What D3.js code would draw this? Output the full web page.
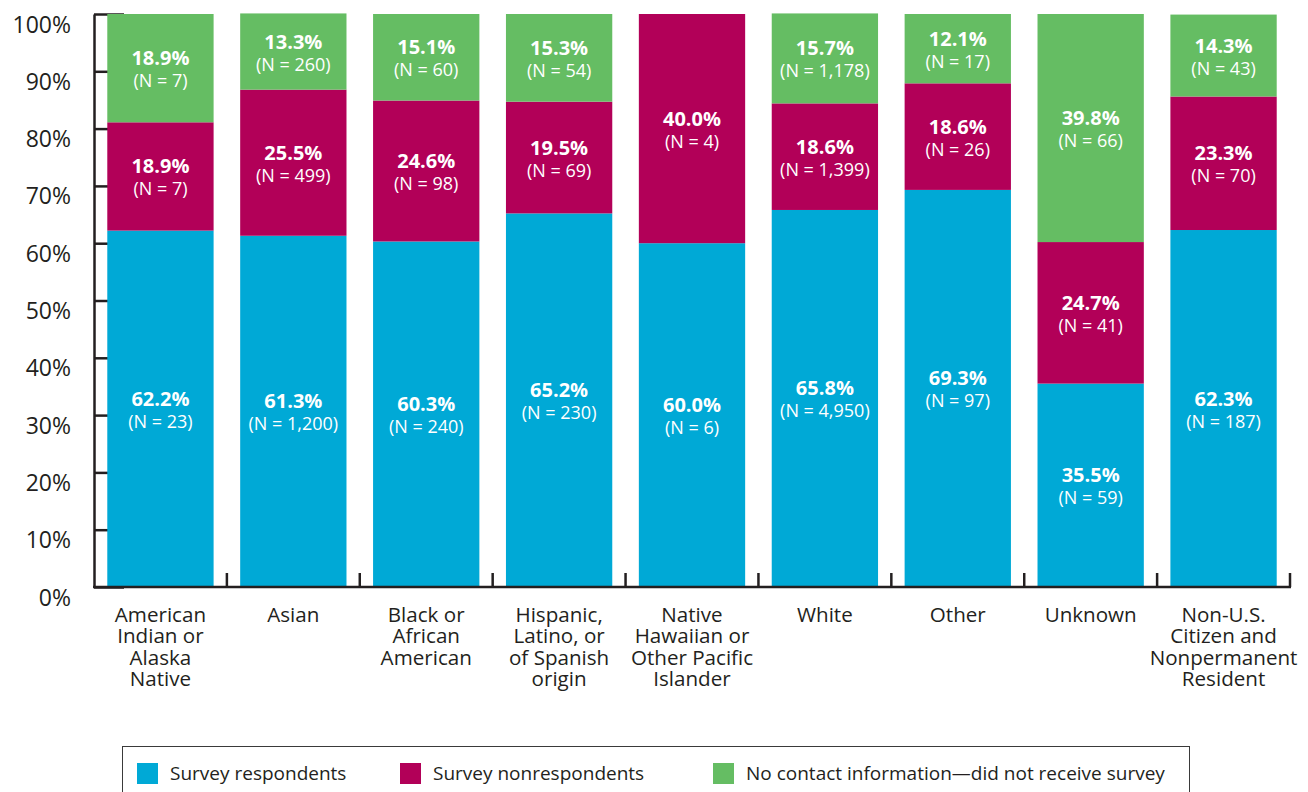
<!DOCTYPE html>
<html>
<head>
<meta charset="utf-8">
<script src="https://cdn.jsdelivr.net/npm/d3@7"></script>
<style>
  body { margin: 0; background: #fff; }
  svg { display: block; font-family: "Open Sans", sans-serif; }
  .seg-pct { font-weight: 700; font-size: 20px; fill: #fff; }
  .seg-n { font-size: 18px; fill: #fff; }
  .cat { font-size: 20.6px; fill: #231f20; }
  .legend-text { font-size: 19px; fill: #231f20; }
</style>
</head>
<body>
<div id="chart"></div>
<script>
// categories (label lines as printed under each bar)
var categories = ["AIAN", "Asian", "Black", "Hispanic", "NHPI", "White", "Other", "Unknown", "NonUS"];
var categoryLines = [
  ["American", "Indian or", "Alaska", "Native"],
  ["Asian"],
  ["Black or", "African", "American"],
  ["Hispanic,", "Latino, or", "of Spanish", "origin"],
  ["Native", "Hawaiian or", "Other Pacific", "Islander"],
  ["White"],
  ["Other"],
  ["Unknown"],
  ["Non-U.S.", "Citizen and", "Nonpermanent", "Resident"]
];

// series values (percent) and counts
var respondents      = [62.2, 61.3, 60.3, 65.2, 60.0, 65.8, 69.3, 35.5, 62.3];
var respondentsN     = ["23", "1,200", "240", "230", "6", "4,950", "97", "59", "187"];
var nonrespondents   = [18.9, 25.5, 24.6, 19.5, 40.0, 18.6, 18.6, 24.7, 23.3];
var nonrespondentsN  = ["7", "499", "98", "69", "4", "1,399", "26", "41", "70"];
var noContact        = [18.9, 13.3, 15.1, 15.3, 0, 15.7, 12.1, 39.8, 14.3];
var noContactN       = ["7", "260", "60", "54", "", "1,178", "17", "66", "43"];

var seriesNames = ["Survey respondents", "Survey nonrespondents", "No contact information\u2014did not receive survey"];
var yTicks = [0, 10, 20, 30, 40, 50, 60, 70, 80, 90, 100];

//setup spacing size
var svg_w = 1308;
var svg_h = 792;
var plot = {left: 94, right: 1290, top: 14, bottom: 587};
var colors = ["#00a9d6", "#b20058", "#65bd63"];
var ink = "#231f20";

// build rows for the stack
var keys = ["resp", "nonresp", "nocontact"];
var rows = categories.map(function(c, i) {
  return {cat: c, resp: respondents[i], nonresp: nonrespondents[i], nocontact: noContact[i],
          n: [respondentsN[i], nonrespondentsN[i], noContactN[i]]};
});
var stacked = d3.stack().keys(keys)(rows);

var svg = d3.select("#chart").append("svg")
  .attr("width", svg_w)
  .attr("height", svg_h);

//scales
var x = d3.scaleBand()
  .domain(categories)
  .range([plot.left, plot.right])
  .paddingInner(0.2)
  .paddingOuter(0.1);

var y = d3.scaleLinear()
  .domain([0, 100])
  .range([plot.bottom, plot.top]);

//y axis (ticks point inward, labels sit just under each tick)
var yAxis = svg.append("g")
  .attr("transform", "translate(" + plot.left + ",0)")
  .call(d3.axisLeft(y).tickValues(yTicks).tickSizeInner(-30).tickSizeOuter(0).tickPadding(23)
        .tickFormat(function(d) { return d + "%"; }));
yAxis.select(".domain").attr("stroke", ink).attr("stroke-width", 2.5);
yAxis.selectAll(".tick line").attr("stroke", ink).attr("stroke-width", 2.5);
yAxis.selectAll(".tick text")
  .attr("dy", 18)
  .attr("fill", ink)
  .style("font-family", "'Open Sans', sans-serif")
  .style("font-size", "23px");

//bars
var layer = svg.selectAll(".layer")
  .data(stacked)
  .enter().append("g")
  .attr("class", "layer")
  .attr("fill", function(d, i) { return colors[i]; });

layer.selectAll("rect")
  .data(function(d) { return d; })
  .enter().append("rect")
  .attr("x", function(d) { return x(d.data.cat); })
  .attr("y", function(d) { return y(d[1]); })
  .attr("width", x.bandwidth())
  .attr("height", function(d) { return y(d[0]) - y(d[1]); });

//segment labels
var labels = [];
stacked.forEach(function(s, si) {
  s.forEach(function(d) {
    if (d[1] - d[0] > 0) labels.push({cat: d.data.cat, mid: (y(d[0]) + y(d[1])) / 2,
                                      val: d[1] - d[0], n: d.data.n[si]});
  });
});
var lab = svg.append("g").selectAll("g")
  .data(labels)
  .enter().append("g")
  .attr("transform", function(d) { return "translate(" + (x(d.cat) + x.bandwidth() / 2) + "," + d.mid + ")"; })
  .attr("text-anchor", "middle");
lab.append("text").attr("class", "seg-pct").attr("y", -3)
  .text(function(d) { return d.val.toFixed(1) + "%"; });
lab.append("text").attr("class", "seg-n").attr("y", 19)
  .text(function(d) { return "(N = " + d.n + ")"; });

//x axis line and separators between categories
var xa = svg.append("g").attr("stroke", ink).attr("stroke-width", 2.5);
xa.append("line")
  .attr("x1", plot.left - 1).attr("x2", x.range()[1] + 1)
  .attr("y1", plot.bottom).attr("y2", plot.bottom);
xa.selectAll(".sep")
  .data(categories)
  .enter().append("line")
  .attr("x1", function(d) { return x(d) + x.bandwidth() + (x.step() - x.bandwidth()) / 2; })
  .attr("x2", function(d) { return x(d) + x.bandwidth() + (x.step() - x.bandwidth()) / 2; })
  .attr("y1", plot.bottom - 14).attr("y2", plot.bottom);

//category labels
var cat = svg.append("g").selectAll("text")
  .data(categories)
  .enter().append("text")
  .attr("class", "cat")
  .attr("text-anchor", "middle")
  .attr("x", function(d) { return x(d) + x.bandwidth() / 2; })
  .attr("y", 622);
cat.selectAll("tspan")
  .data(function(d, i) { return categoryLines[i]; })
  .enter().append("tspan")
  .attr("x", function() { var p = d3.select(this.parentNode).datum(); return x(p) + x.bandwidth() / 2; })
  .attr("dy", function(d, i) { return i === 0 ? 0 : 21.3; })
  .text(function(d) { return d; });

//legend
var lg = svg.append("g");
lg.append("rect")
  .attr("x", 122.5).attr("y", 746.5)
  .attr("width", 1067).attr("height", 80)
  .attr("fill", "none").attr("stroke", "#3a3a3a").attr("stroke-width", 1);
var legendX = [137, 400, 713];
var item = lg.selectAll(".legend")
  .data(seriesNames)
  .enter().append("g")
  .attr("class", "legend")
  .attr("transform", function(d, i) { return "translate(" + legendX[i] + ",763)"; });
item.append("rect")
  .attr("width", 21).attr("height", 21)
  .attr("fill", function(d, i) { return colors[i]; });
item.append("text")
  .attr("class", "legend-text")
  .attr("x", 33).attr("y", 17)
  .text(function(d) { return d; });
</script>
</body>
</html>
